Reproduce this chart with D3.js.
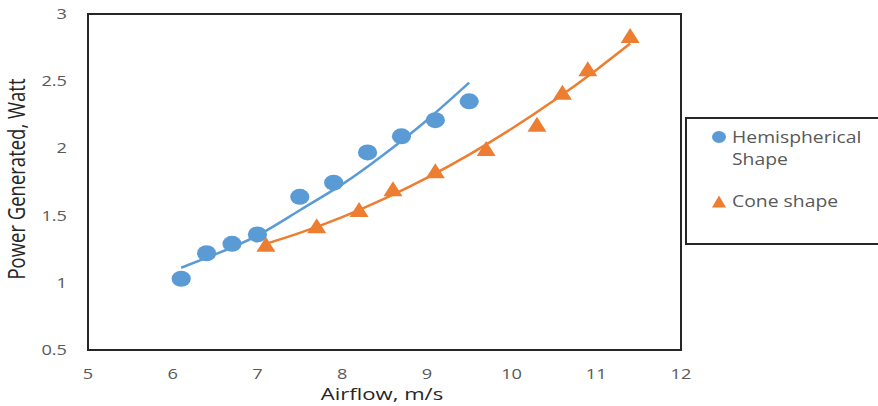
<!DOCTYPE html>
<html>
<head>
<meta charset="utf-8">
<script src="https://cdn.jsdelivr.net/npm/d3@7"></script>
<style>
  body { margin: 0; background: #fff; }
  svg { display: block; }
  text { font-family: "Open Sans", sans-serif; fill: #595959; }
</style>
</head>
<body>
<svg id="chart" width="878" height="406"></svg>
<script>
// ---- Data ----
const hemiX = [6.1, 6.4, 6.7, 7.0, 7.5, 7.9, 8.3, 8.7, 9.1, 9.5];
const hemiY = [1.03, 1.22, 1.29, 1.36, 1.64, 1.745, 1.97, 2.09, 2.21, 2.35];
const coneX = [7.1, 7.7, 8.2, 8.6, 9.1, 9.7, 10.3, 10.6, 10.9, 11.4];
const coneY = [1.287, 1.424, 1.545, 1.70, 1.833, 2.0, 2.18, 2.418, 2.592, 2.84];
// trendline positions
const hemiTrendX = [6.1, 6.5, 7.0, 7.5, 8.0, 8.5, 9.0, 9.5];
const hemiTrendY = [1.112, 1.211, 1.352, 1.54, 1.732, 1.958, 2.21, 2.489];
const coneTrendX = [7.1, 7.5, 8.0, 8.5, 9.0, 9.5, 10.0, 10.5, 11.0, 11.4];
const coneTrendY = [1.29, 1.371, 1.489, 1.626, 1.781, 1.954, 2.146, 2.356, 2.584, 2.78];
const xTicks = [5, 6, 7, 8, 9, 10, 11, 12];
const yTicks = [0.5, 1, 1.5, 2, 2.5, 3];
const seriesNames = ["Hemispherical", "Shape", "Cone shape"];
const xTitle = "Airflow, m/s";
const yTitle = "Power Generated, Watt";

const BLUE = "#5B9BD5", ORANGE = "#ED7D31";
const SX = 1.3; // horizontal stretch of the reference text

const svg = d3.select("#chart");
const mLeft = 88, mRight = 681, mTop = 14, mBottom = 350;
const x = d3.scaleLinear().domain([5, 12]).range([mLeft, mRight]);
const y = d3.scaleLinear().domain([0.5, 3]).range([mBottom, mTop]);

// axes (labels only)
const yAxis = svg.append("g").attr("transform", `translate(${mLeft},0)`)
  .call(d3.axisLeft(y).tickValues(yTicks).tickSize(0).tickPadding(21)
        .tickFormat(d3.format("")));
yAxis.select(".domain").remove();
yAxis.selectAll("text")
  .attr("x", -21 / SX).attr("transform", `scale(${SX},1)`)
  .style("font-size", "14px").style("font-family", "Open Sans").attr("fill", "#595959");

const xAxis = svg.append("g").attr("transform", `translate(0,${mBottom})`)
  .call(d3.axisBottom(x).tickValues(xTicks).tickSize(0).tickPadding(19)
        .tickFormat(d3.format("")));
xAxis.select(".domain").remove();
xAxis.selectAll(".tick text")
  .attr("transform", `scale(${SX},1)`)
  .style("font-size", "14px").style("font-family", "Open Sans").attr("fill", "#595959");
xAxis.selectAll(".tick").each(function(d) {
  d3.select(this).attr("transform", null);
  d3.select(this).select("text").attr("x", x(d) / SX);
});

// plot frame
svg.append("rect").attr("x", mLeft).attr("y", mTop)
  .attr("width", mRight - mLeft).attr("height", mBottom - mTop)
  .attr("fill", "none").attr("stroke", "#262626").attr("stroke-width", 2);

// trendlines
const line = d3.line().x(d => x(d[0])).y(d => y(d[1])).curve(d3.curveNatural);
svg.append("path").datum(d3.zip(hemiTrendX, hemiTrendY)).attr("d", line)
  .attr("fill", "none").attr("stroke", BLUE).attr("stroke-width", 2.5);
svg.append("path").datum(d3.zip(coneTrendX, coneTrendY)).attr("d", line)
  .attr("fill", "none").attr("stroke", ORANGE).attr("stroke-width", 2.5);

// markers
svg.append("g").selectAll("ellipse").data(d3.zip(hemiX, hemiY)).join("ellipse")
  .attr("cx", d => x(d[0])).attr("cy", d => y(d[1]))
  .attr("rx", 9.6).attr("ry", 8).attr("fill", BLUE);
const tri = (w, h) => `M0,${-h/2}L${w/2},${h/2}L${-w/2},${h/2}Z`;
svg.append("g").selectAll("path").data(d3.zip(coneX, coneY)).join("path")
  .attr("transform", d => `translate(${x(d[0])},${y(d[1])})`)
  .attr("d", tri(19, 15)).attr("fill", ORANGE);

// axis titles
svg.append("text").attr("transform", `translate(382,400) scale(${SX},1)`)
  .attr("text-anchor", "middle").style("font-size", "17px").style("fill", "#262626").text(xTitle);
svg.append("text").attr("transform", `translate(25,179) scale(${SX},1) rotate(-90)`)
  .attr("text-anchor", "middle").style("font-size", "18.5px").style("fill", "#262626").text(yTitle);

// legend
svg.append("rect").attr("x", 686).attr("y", 118).attr("width", 210).attr("height", 126)
  .attr("fill", "none").attr("stroke", "#262626").attr("stroke-width", 2);
svg.append("ellipse").attr("cx", 719).attr("cy", 137).attr("rx", 7).attr("ry", 6).attr("fill", BLUE);
svg.append("path").attr("transform", "translate(719,201.5)").attr("d", tri(14, 12)).attr("fill", ORANGE);
const LSX = 1.21;
[[seriesNames[0], 143], [seriesNames[1], 165], [seriesNames[2], 206.5]].forEach(([t, by]) => {
  svg.append("text").attr("transform", `translate(732,${by}) scale(${LSX},1)`)
    .style("font-size", "16px").text(t);
});
</script>
</body>
</html>
